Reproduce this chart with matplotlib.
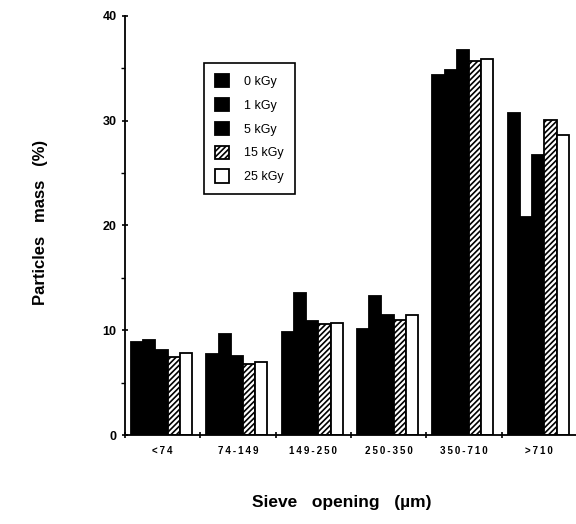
import matplotlib
matplotlib.use("Agg")
import matplotlib.pyplot as plt
import numpy as np

categories = ["<74", "74-149", "149-250", "250-350", "350-710", ">710"]
series_names = ["0 kGy", "1 kGy", "5 kGy", "15 kGy", "25 kGy"]
v0 = [8.9, 7.7, 9.8, 10.1, 34.4, 30.7]
v1 = [9.1, 9.6, 13.6, 13.3, 34.8, 20.8]
v5 = [8.1, 7.5, 10.9, 11.5, 36.8, 26.7]
v15 = [7.4, 6.8, 10.6, 11.0, 35.7, 30.1]
v25 = [7.8, 7.0, 10.7, 11.5, 35.9, 28.6]
series = [v0, v1, v5, v15, v25]

plt.rcParams['font.family'] = ['Liberation Sans', 'DejaVu Sans']
plt.rcParams['hatch.linewidth'] = 1.2

fig = plt.figure(figsize=(5.76, 5.24), dpi=100)
ax = fig.add_axes([125/576, 89/524, 452/576, 419/524])

x = np.arange(len(categories))
w = 0.162
styles = [
    dict(facecolor='black', edgecolor='black'),
    dict(facecolor='black', edgecolor='black'),
    dict(facecolor='black', edgecolor='black'),
    dict(facecolor='white', edgecolor='black', hatch='//////'),
    dict(facecolor='white', edgecolor='black'),
]
for k, (vals, st) in enumerate(zip(series, styles)):
    ax.bar(x - 0.42 + w * k + w / 2, vals, width=w, linewidth=1.3,
           label=series_names[k], **st)

ax.set_xlim(-0.5, 5.5)
ax.set_ylim(0, 40)
for s in ['top', 'right']:
    ax.spines[s].set_visible(False)
ax.spines['left'].set_linewidth(1.3)
ax.spines['bottom'].set_linewidth(1.3)

spaced = ["\u2009".join(list(c)) for c in categories]
ax.set_xticks(np.arange(-0.5, 5.6, 1.0))
ax.set_xticklabels([])
ax.set_xticks(x, minor=True)
ax.set_xticklabels(spaced, minor=True, fontsize=7, fontweight='bold')
ax.tick_params(axis='x', which='minor', length=0, pad=8)
ax.tick_params(axis='x', which='major', length=4, width=1.2, direction='inout')

ax.set_yticks([0, 10, 20, 30, 40])
ax.set_yticklabels(['0', '10', '20', '30', '40'], fontsize=9, fontweight='bold')
ax.set_yticks([5, 15, 25, 35], minor=True)
ax.tick_params(axis='y', which='major', length=5, width=1.2, direction='inout')
ax.tick_params(axis='y', which='minor', length=3, width=1.0, direction='out')

fig.text(41/576, 1 - 222/524, "Particles   mass   (%)", rotation=90, ha='center', va='center',
         fontsize=12, fontweight='bold')
fig.text(342/576, 1 - 503/524, "Sieve   opening   (\u00b5m)", ha='center', va='center',
         fontsize=12.5, fontweight='bold')

leg = ax.legend(loc='upper left', bbox_to_anchor=(0.175, 0.888), borderaxespad=0,
                fancybox=False, edgecolor='black', framealpha=1,
                handlelength=1.1, handleheight=1.25, handletextpad=1.2,
                labelspacing=0.8, borderpad=0.9, prop={'size': 9})
leg.get_frame().set_linewidth(1.2)

fig.savefig("out.png", dpi=100)
